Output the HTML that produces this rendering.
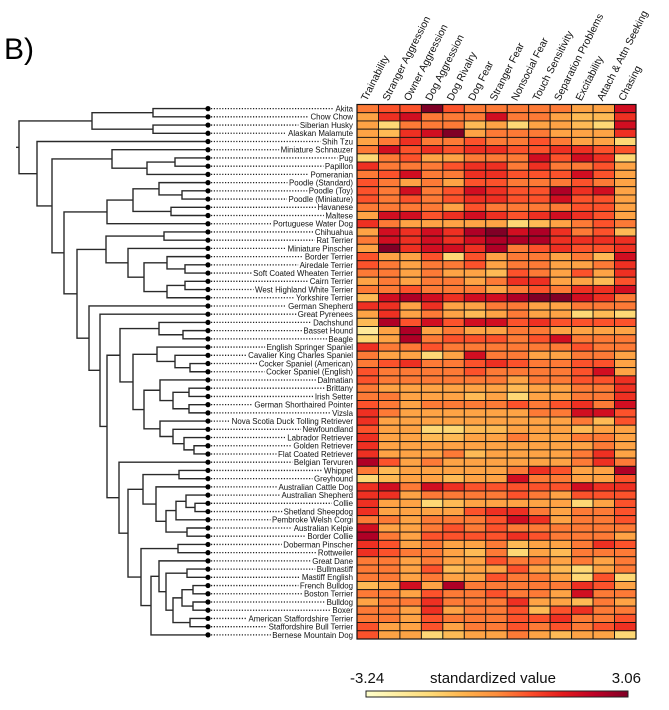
<!DOCTYPE html>
<html><head><meta charset="utf-8"><style>
html,body{margin:0;padding:0;background:#fff;}
svg{display:block;font-family:"Liberation Sans",sans-serif;}
</style></head><body>
<svg id="chart" width="669" height="710" viewBox="0 0 669 710" xmlns="http://www.w3.org/2000/svg">
<text x="4" y="59" font-size="30" fill="#000">B)</text>
<g id="dendro"></g>
<g id="labels"></g>
<g id="cells"></g>
<g id="headers"></g>
<g id="legend"></g>
</svg>
<script>
const traits = ["Trainability","Stranger Aggression","Owner Aggression","Dog Aggression","Dog Rivalry","Dog Fear","Stranger Fear","Nonsocial Fear","Touch Sensitivity","Separation Problems","Excitability","Attach & Attn Seeking","Chasing"];
const breeds = ["Akita","Chow Chow","Siberian Husky","Alaskan Malamute","Shih Tzu","Miniature Schnauzer","Pug","Papillon","Pomeranian","Poodle (Standard)","Poodle (Toy)","Poodle (Miniature)","Havanese","Maltese","Portuguese Water Dog","Chihuahua","Rat Terrier","Miniature Pinscher","Border Terrier","Airedale Terrier","Soft Coated Wheaten Terrier","Cairn Terrier","West Highland White Terrier","Yorkshire Terrier","German Shepherd","Great Pyrenees","Dachshund","Basset Hound","Beagle","English Springer Spaniel","Cavalier King Charles Spaniel","Cocker Spaniel (American)","Cocker Spaniel (English)","Dalmatian","Brittany","Irish Setter","German Shorthaired Pointer","Vizsla","Nova Scotia Duck Tolling Retriever","Newfoundland","Labrador Retriever","Golden Retriever","Flat Coated Retriever","Belgian Tervuren","Whippet","Greyhound","Australian Cattle Dog","Australian Shepherd","Collie","Shetland Sheepdog","Pembroke Welsh Corgi","Australian Kelpie","Border Collie","Doberman Pinscher","Rottweiler","Great Dane","Bullmastiff","Mastiff English","French Bulldog","Boston Terrier","Bulldog","Boxer","American Staffordshire Terrier","Staffordshire Bull Terrier","Bernese Mountain Dog"];
const values = [
[-0.1,0.4,0.4,2.9,0.4,-0.1,-0.1,-0.1,-0.1,-0.1,-0.8,-0.8,1.6],
[-0.8,0.9,1.6,-0.1,-0.1,-0.1,1.6,-0.1,-0.1,-0.8,-1.3,-1.3,0.9],
[-0.8,-1.9,-0.1,-0.1,-0.1,-1.3,-0.8,-1.9,-0.8,-0.8,-1.3,-1.9,1.6],
[-0.8,-1.3,0.9,1.6,2.9,-0.8,-0.1,-0.1,-0.1,-0.8,-0.8,-0.8,0.9],
[-0.8,-0.1,0.9,-0.1,-0.1,0.4,-0.1,-0.1,0.4,-0.1,-0.8,-0.8,-1.9],
[-0.1,1.6,0.4,0.9,0.4,0.9,0.9,0.4,0.4,0.9,0.9,0.4,0.4],
[-1.9,-0.1,0.4,-0.8,-0.8,-0.1,-0.1,-0.1,1.6,0.4,1.6,0.9,-1.9],
[0.9,-0.1,-0.1,-0.1,0.4,0.9,0.9,-0.1,0.9,-0.1,-0.1,0.4,-0.8],
[-0.1,0.4,1.6,-0.1,-0.1,0.9,0.9,0.4,0.4,0.4,1.6,0.4,-0.8],
[0.4,-0.1,-0.8,-0.1,-0.8,0.4,0.4,-0.1,-0.1,-0.1,0.4,-0.1,-0.8],
[0.4,-0.1,1.6,-0.1,0.4,1.6,0.9,0.4,0.4,2.2,0.9,1.6,-0.8],
[0.4,-0.1,0.4,-0.1,0.4,0.9,0.9,0.4,0.4,1.6,0.4,0.4,-0.8],
[-0.1,-0.1,-0.1,-0.1,-0.8,0.4,-0.1,-0.1,-0.1,-0.1,0.4,0.4,-0.8],
[-0.8,1.6,1.6,0.4,0.9,1.6,0.9,0.4,0.9,1.6,0.9,0.4,-0.8],
[0.9,-0.1,-0.8,-0.8,-0.8,-0.8,-0.8,-1.9,-1.3,-0.8,-0.1,0.4,-0.1],
[-0.8,1.6,0.9,1.6,0.9,2.2,2.9,1.6,2.2,0.9,-0.1,0.4,-1.3],
[-0.1,1.6,0.9,1.6,0.9,1.6,2.2,2.2,2.2,0.9,0.9,0.9,0.9],
[-0.8,2.9,0.9,1.6,1.6,0.9,2.2,-0.1,0.4,0.9,0.4,0.4,0.9],
[0.4,-0.8,-0.8,0.4,-1.9,0.4,-0.8,-0.1,-0.1,-0.8,-0.1,-1.3,1.6],
[0.4,-0.1,-0.8,-0.1,-0.1,0.4,-0.8,-0.1,-0.1,-0.8,-0.8,-0.1,0.9],
[-0.1,-0.1,-0.8,-0.1,-0.8,-0.8,-1.3,0.4,-0.1,-0.8,0.4,-0.8,0.9],
[-0.8,-0.1,-0.8,-0.1,-0.1,-0.8,-0.1,0.9,0.9,-0.8,-0.8,-1.3,0.4],
[-0.1,-0.1,0.4,-0.1,-0.1,-0.1,-0.8,-0.1,0.4,-0.1,0.9,0.9,1.6],
[-1.3,1.6,2.2,1.6,0.9,1.6,1.6,2.2,2.9,2.9,1.6,0.9,-0.1],
[0.9,0.9,-0.8,0.9,-0.8,-0.8,-0.1,-0.1,-0.8,-0.8,-0.1,-0.1,-0.1],
[-0.8,0.9,-0.8,-0.1,-0.8,-1.3,-0.8,-0.1,-0.8,-0.8,-1.9,-1.3,-1.9],
[-1.3,2.2,0.4,1.6,0.4,1.6,1.6,0.4,0.9,0.4,0.4,0.4,0.4],
[-2.6,-0.8,2.2,-0.8,-0.1,-0.8,-0.8,-0.1,-0.1,-0.8,-0.8,-0.8,-0.8],
[-1.9,-0.8,2.2,-0.1,0.4,0.4,0.4,-0.1,0.4,1.6,-0.1,-0.1,-0.1],
[0.9,-0.1,-0.1,0.4,-0.1,-0.1,-0.1,-0.1,-0.1,-0.1,0.4,-0.1,-0.1],
[-0.1,-0.8,-0.8,-1.9,-0.8,1.6,-0.1,-0.1,-0.8,-0.8,-0.1,-0.1,-0.8],
[-0.1,0.4,0.9,-0.1,-0.1,0.4,0.9,0.4,-0.1,-0.1,0.4,0.4,-0.8],
[0.4,-0.1,-0.1,-0.1,-0.1,0.4,-0.1,-0.1,-0.1,-0.1,0.4,1.6,-0.8],
[0.4,-0.1,-0.1,-0.1,-0.1,-0.1,-0.1,-0.8,-0.1,-0.1,0.4,0.4,0.9],
[-0.1,-0.8,-0.8,-0.8,-0.8,-0.8,-0.8,-1.3,-0.8,-0.8,-0.1,-0.1,0.9],
[-0.1,-0.1,-0.8,-0.8,-0.8,-1.3,-0.8,-1.9,-0.8,-0.8,-0.1,-0.1,0.9],
[0.4,-0.1,-0.8,-0.1,-0.1,-0.1,-0.1,0.4,-0.1,0.4,0.9,-0.1,1.6],
[0.9,-0.1,-0.8,-0.8,-0.8,-0.8,-0.8,-0.8,-0.1,-0.1,1.6,1.6,0.4],
[0.9,-0.8,-0.8,-0.8,-0.8,-0.8,-0.8,-0.8,-0.8,-0.8,-0.1,-1.3,0.4],
[0.4,-0.8,-0.8,-1.9,-1.9,-1.3,-1.3,-0.8,-0.8,-0.8,-1.3,-0.8,-0.8],
[0.9,-0.8,-0.8,-1.3,-1.3,-0.8,-0.8,-0.1,-0.8,-0.8,-0.1,-0.1,-0.8],
[0.9,-0.8,-0.8,-0.8,-0.8,-0.8,-0.8,-0.8,-0.8,-0.8,-0.8,-0.1,-0.8],
[0.9,-0.8,-0.8,-0.8,-0.1,-1.3,-0.8,-0.8,-0.8,-0.8,-0.1,0.9,-0.8],
[2.2,0.4,-0.8,-0.1,-0.8,-0.8,-0.8,-0.8,-0.8,-0.8,-0.1,0.9,-0.1],
[-0.1,-1.3,-0.8,-0.8,-0.8,-0.8,-0.8,-0.1,0.9,0.4,-0.8,-0.8,2.2],
[-1.9,-1.3,-0.8,-0.8,-1.3,-0.8,-0.8,1.6,-0.1,-0.1,-0.8,-0.8,0.4],
[0.9,1.6,-0.1,1.6,0.9,0.4,0.4,0.4,0.4,0.4,1.6,0.9,0.9],
[0.9,0.9,-0.8,-0.1,-0.1,-0.1,-0.1,0.4,-0.1,-0.8,0.4,0.4,0.4],
[0.9,-0.8,-0.8,-1.9,-1.3,-0.8,-0.8,-0.8,-0.8,-0.8,-1.9,-0.8,0.4],
[0.9,-0.8,-0.8,-0.8,-0.8,0.4,0.9,0.9,-0.1,-0.8,-0.1,-0.1,0.4],
[-0.1,-0.1,-0.8,-0.1,-0.1,-0.1,0.4,1.6,0.9,-0.8,-0.1,-0.1,0.4],
[1.6,-0.8,-0.8,-0.1,0.4,-0.1,0.4,-0.1,-0.1,-0.1,-0.1,-0.1,-0.1],
[2.2,-0.1,-0.8,0.4,0.4,0.4,0.4,0.9,0.4,-0.1,-0.1,-0.1,-0.8],
[0.9,0.4,-0.8,-0.1,-0.8,-0.8,-0.1,-1.3,-0.8,-0.8,-0.1,0.9,0.4],
[0.9,0.4,-0.1,-0.1,-0.8,-1.3,-0.1,-1.9,-0.8,-1.3,-0.1,-0.1,-0.1],
[-0.1,-0.1,-0.8,-0.1,-0.8,-0.8,0.4,-0.1,-0.1,-0.8,-0.1,-0.8,-0.1],
[-0.1,-0.1,-0.8,0.4,-1.3,-0.8,-0.8,0.4,-0.8,-1.3,-1.9,-0.8,-0.1],
[-0.1,-0.1,-0.8,-0.1,-0.8,-0.8,0.4,-0.1,-0.1,-0.8,-1.9,0.4,-1.9],
[-1.3,-0.8,1.6,-0.8,2.2,-0.1,-0.1,-0.1,-0.1,-0.1,0.9,0.4,-0.8],
[-0.1,-0.1,-0.8,0.4,-0.1,-0.1,0.4,-0.1,-0.1,-0.8,1.6,-0.1,-0.1],
[-0.8,-0.1,-0.1,0.9,-0.1,-0.1,-0.1,0.9,-0.8,-0.8,-1.3,-0.1,-0.8],
[-0.1,-0.1,-0.8,0.9,-0.8,-0.1,-0.1,0.4,-1.3,0.4,0.9,-0.1,-0.1],
[-0.1,-0.1,-0.8,0.4,-0.1,-0.1,-0.1,0.4,0.4,0.9,-0.1,-0.1,0.4],
[0.4,-0.8,-0.8,0.4,-0.8,-0.1,-0.1,0.4,-0.1,0.4,-0.1,0.4,0.9],
[0.4,-0.8,-0.8,-1.9,-1.3,-0.8,-0.8,-0.1,-0.8,-1.3,-0.8,-0.8,-1.9]
];
const scaleMin = -3.24;
const scaleMax = 3.06;
const legendTicks = ["-3.24","3.06"];
// dendrogram merge heights: [height, left, right]; leaves are row indices
const nA1 = [65,[29,44,45],[52,46,[42,[32,[22,47,[13,48,49]],50],[21,51,52]]]];
const nA2 = [67,[30,53,54],[57,[49,55,[42,[21,56,57],[35,[26,[15,58,59],[15,60,61]],[18,62,63]]]],64]];
const n128 = [80,nA1,nA2];
const n119 = [89,43,n128];
const n120 = [88,[49,26,[25,27,28]],[75,[51,29,[33,30,[18,31,32]]],[64,[48,33,[35,[19,34,35],[19,36,37]]],[48,38,[35,39,[24,40,[14,41,42]]]]]]];
const n107 = [101,n120,n119];
const nH = [119,24,[108,25,n107]];
const nG = [102,[44,15,16],[80,17,[64,[41,18,[23,19,20]],[41,[23,21,22],23]]]];
const nF = [131,nG,nH];
const nE = [101,[75,[49,9,[26,10,11]],[37,12,13]],14];
const nD = [144,nE,nF];
const nC = [96,5,[61,[33,6,7],8]];
const nB = [156,nC,nD];
const treeRoot = [189,[116,[55,0,1],[55,2,3]],[171,4,nB]];

const NS="http://www.w3.org/2000/svg";
const X0=357, X1=636, Y0=104.5, Y1=639;
const cw=(X1-X0)/traits.length, rh=(Y1-Y0)/breeds.length;
const xCol=i=>X0+i*cw, yRow=i=>Y0+i*rh;
const LEAFX=208;
const xH=h=>LEAFX-h;
const stops=["#ffffcc","#ffeda0","#fed976","#feb24c","#fd8d3c","#fc4e2a","#e31a1c","#bd0026","#800026"];
function hex(c){return [1,3,5].map(k=>parseInt(c.substr(k,2),16));}
function color(v,shift){
  let t=(v-scaleMin)/(scaleMax-scaleMin)+(shift||0); t=Math.max(0,Math.min(1,t));
  const p=t*(stops.length-1), i=Math.min(stops.length-2,Math.floor(p)), f=p-i;
  const a=hex(stops[i]), b=hex(stops[i+1]);
  return "rgb("+a.map((x,k)=>Math.round(x+(b[k]-x)*f)).join(",")+")";
}
function mk(tag,attrs,parent){const e=document.createElementNS(NS,tag);for(const k in attrs)e.setAttribute(k,attrs[k]);parent.appendChild(e);return e;}

const cells=document.getElementById('cells');
values.forEach((row,r)=>row.forEach((v,c)=>{
  const e=mk('rect',{x:xCol(c),y:yRow(r),width:cw,height:rh,fill:color(v,0.04),stroke:'#111','stroke-width':0.9},cells);
  
  
}));
const border=mk('rect',{x:X0,y:Y0,width:X1-X0,height:Y1-Y0,fill:'none',stroke:'#111','stroke-width':1.2},cells);



const headers=document.getElementById('headers');
traits.forEach((t,i)=>{
  const cx=xCol(i)+cw/2-1, cy=Y0-3;
  const e=mk('text',{x:cx,y:cy,'font-size':10.3,fill:'#111',transform:`rotate(-63 ${cx} ${cy})`},headers);
  e.textContent=t;
  
  
});

const labels=document.getElementById('labels');
breeds.forEach((b,i)=>{
  const y=yRow(i)+rh/2;
  const t=mk('text',{x:353,y:y+2.9,'font-size':7.9,fill:'#111','text-anchor':'end'},labels);
  t.textContent=b;
  
  
  const w=t.getComputedTextLength();
  const l=mk('line',{x1:LEAFX+3,y1:y,x2:353-w-1.5,y2:y,stroke:'#222','stroke-width':1.3,'stroke-dasharray':'1.2,1.6'},labels);
  
  
  const d=mk('circle',{cx:LEAFX,cy:y,r:2.6,fill:'#000'},labels);
  
  
});

const dendro=document.getElementById('dendro');
function draw(n){
  if(typeof n==='number') return {x:LEAFX,y:yRow(n)+rh/2};
  const a=draw(n[1]), b=draw(n[2]), x=xH(n[0]);
  const p=mk('path',{d:`M${a.x},${a.y}H${x}V${b.y}H${b.x}`,fill:'none',stroke:'#2a2a2a','stroke-width':1.4},dendro);
  
  
  return {x:x,y:(a.y+b.y)/2};
}
const rt=draw(treeRoot);
const rl=mk('line',{x1:rt.x-3,y1:rt.y,x2:rt.x,y2:rt.y,stroke:'#2a2a2a','stroke-width':1.4},dendro);



const legend=document.getElementById('legend');
const defs=mk('defs',{},legend);
const g=mk('linearGradient',{id:'grad',x1:0,x2:1,y1:0,y2:0},defs);
stops.forEach((s,i)=>mk('stop',{offset:i/(stops.length-1),'stop-color':s},g));
const bar=mk('rect',{x:366,y:691,width:262,height:6,fill:'url(#grad)',stroke:'#222','stroke-width':1},legend);


const t1=mk('text',{x:350,y:683,'font-size':15,fill:'#111'},legend);
t1.textContent=legendTicks[0];


const t2=mk('text',{x:641,y:683,'font-size':15,fill:'#111','text-anchor':'end'},legend);
t2.textContent=legendTicks[1];


const t3=mk('text',{x:493,y:683,'font-size':15,fill:'#111','text-anchor':'middle'},legend);
t3.textContent="standardized value";


</script>
</body></html>
